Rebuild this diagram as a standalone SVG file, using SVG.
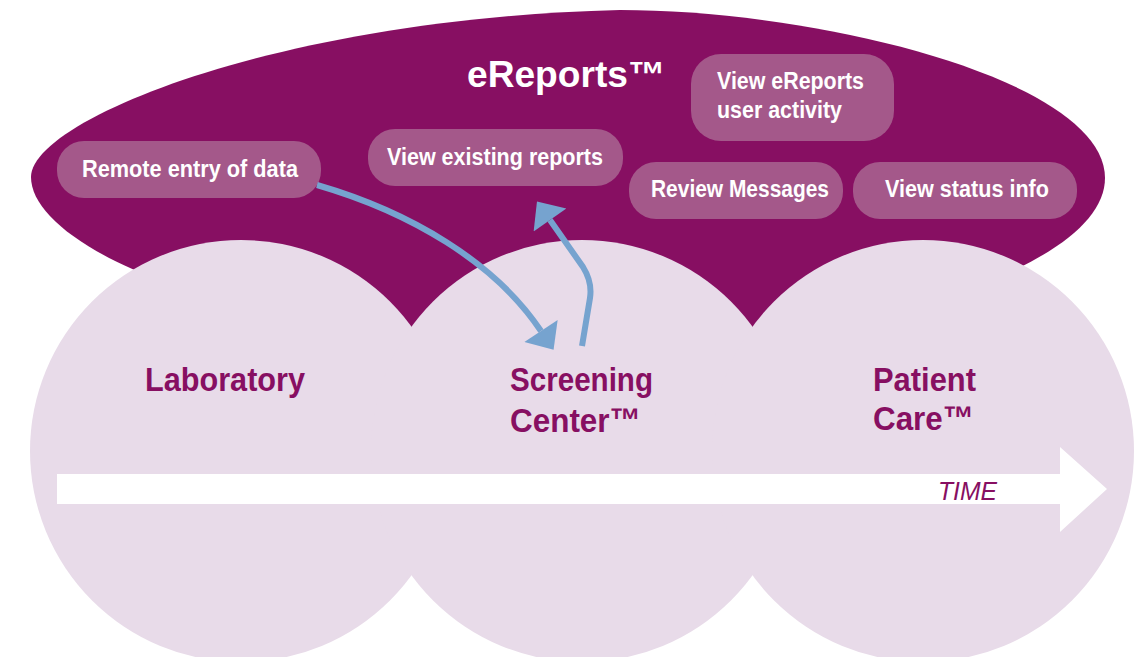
<svg xmlns="http://www.w3.org/2000/svg" width="1141" height="657" viewBox="0 0 1141 657">
<defs>
<style>
.box{fill:#a4588a;}
.bt{font-family:"Liberation Sans Narrow","Liberation Sans",sans-serif;font-weight:bold;font-size:23px;fill:#ffffff;}
.ct{font-family:"Liberation Sans Narrow","Liberation Sans",sans-serif;font-weight:bold;font-size:34px;fill:#870f62;}
.conn{fill:none;stroke:#76a3cf;stroke-width:6;}
</style>
<marker id="ah" markerUnits="userSpaceOnUse" markerWidth="40" markerHeight="40" refX="0" refY="15" orient="auto" viewBox="0 0 18 30">
<path d="M0,0 L17,15 L0,30 z" fill="#76a3cf"/>
</marker>
</defs>
<rect width="1141" height="657" fill="#ffffff"/>
<g id="ereports">
<path d="M31,177 C31,120 280,18 620,10 C820,10 1105,80 1105,178 C1105,260 900,340 580,345 C250,345 31,250 31,177 Z" fill="#870f62"/>
<text x="467" y="87" font-family="Liberation Sans Narrow, Liberation Sans, sans-serif" font-weight="bold" font-size="36" fill="#ffffff" textLength="198" lengthAdjust="spacingAndGlyphs">eReports™</text>
</g>
<g id="stages">
<g id="laboratory">
<circle cx="241" cy="451" r="211" fill="#e8dbe9"/>
</g>
<g id="screening">
<circle cx="582" cy="451" r="211" fill="#e8dbe9"/>
</g>
<g id="patientcare">
<circle cx="923" cy="451" r="211" fill="#e8dbe9"/>
</g>
</g>
<g id="labels">
<text class="ct" x="145" y="391" textLength="160" lengthAdjust="spacingAndGlyphs">Laboratory</text>
<text class="ct" x="510" y="391" textLength="143" lengthAdjust="spacingAndGlyphs">Screening</text>
<text class="ct" x="510" y="432" textLength="131" lengthAdjust="spacingAndGlyphs">Center™</text>
<text class="ct" x="873" y="391" textLength="103" lengthAdjust="spacingAndGlyphs">Patient</text>
<text class="ct" x="873" y="430" textLength="101" lengthAdjust="spacingAndGlyphs">Care™</text>
</g>
<g id="time">
<path d="M57,474 L1060,474 L1060,447 L1107,489 L1060,532 L1060,504 L57,504 Z" fill="#ffffff"/>
<text x="938" y="500" font-family="Liberation Sans, sans-serif" font-style="italic" font-size="25" fill="#870f62" textLength="59" lengthAdjust="spacingAndGlyphs">TIME</text>
</g>
<g id="remote">
<rect class="box" x="57" y="141" width="264" height="57" rx="27"/>
<text class="bt" x="82" y="177" textLength="216" lengthAdjust="spacingAndGlyphs">Remote entry of data</text>
</g>
<g id="existing">
<rect class="box" x="368" y="129" width="255" height="57" rx="27"/>
<text class="bt" x="387" y="165" textLength="216" lengthAdjust="spacingAndGlyphs">View existing reports</text>
</g>
<g id="activity">
<rect class="box" x="691" y="54" width="203" height="87" rx="30"/>
<text class="bt" x="717" y="89" textLength="147" lengthAdjust="spacingAndGlyphs">View eReports</text>
<text class="bt" x="717" y="118" textLength="125" lengthAdjust="spacingAndGlyphs">user activity</text>
</g>
<g id="messages">
<rect class="box" x="629" y="162" width="214" height="57" rx="27"/>
<text class="bt" x="651" y="197" textLength="178" lengthAdjust="spacingAndGlyphs">Review Messages</text>
</g>
<g id="status">
<rect class="box" x="853" y="162" width="224" height="57" rx="27"/>
<text class="bt" x="885" y="197" textLength="164" lengthAdjust="spacingAndGlyphs">View status info</text>
</g>
<g id="connectors">
<path class="conn" d="M317,185 C410,212 495,262 541,331" marker-end="url(#ah)"/>
<path class="conn" d="M582,346 L590,298 C592,285 588,275 583,267 L550,220" marker-end="url(#ah)"/>
</g>
</svg>
